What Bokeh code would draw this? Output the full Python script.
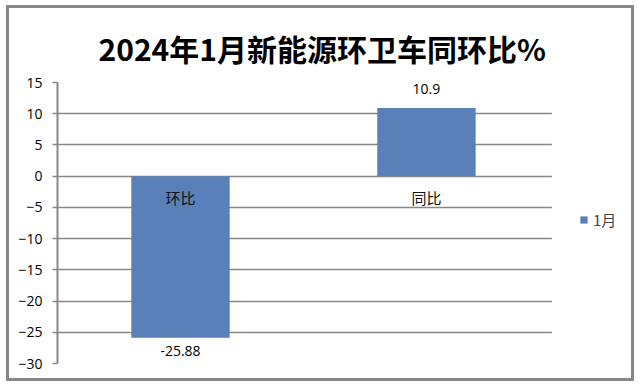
from bokeh.plotting import figure
from bokeh.models import ColumnDataSource, Legend, LegendItem, FixedTicker, Range1d, BoxAnnotation
from bokeh.core.properties import value
from bokeh.embed import file_html
from bokeh.resources import INLINE

categories = ["环比", "同比"]
values = [-25.88, 10.9]
value_labels = ["-25.88", "10.9"]
series_name = "1月"
y_ticks = [15, 10, 5, 0, -5, -10, -15, -20, -25, -30]
title_text = "2024年1月新能源环卫车同环比%"

BAR = "#5A80BA"
GRID = "#878787"

cat_x = [i + 0.5 for i in range(len(categories))]
n_cat = len(categories)
baselines = ["bottom" if v >= 0 else "top" for v in values]
offsets = [-14 if v >= 0 else 8 for v in values]
zeros = [0 for _ in values]

src = ColumnDataSource(dict(x=cat_x, cat=categories, val=values, lab=value_labels,
                            base=baselines, off=offsets, zero=zeros))

# frame extends to the right edge; the area right of the categories is kept blank
p = figure(x_range=Range1d(0, n_cat * 1.179), y_range=Range1d(min(y_ticks), max(y_ticks)),
           width=628, height=376, output_backend="svg", toolbar_location=None,
           min_border_left=48, min_border_right=0, min_border_top=74, min_border_bottom=21,
           title=title_text)
p.styles = {"border": "3px solid #878787", "margin-left": "6px", "margin-top": "5px"}

p.title.text_font = "Noto Sans CJK SC"
p.title.text_font_size = "30px"
p.title.text_font_style = "bold"
p.title.align = "left"
p.title.offset = 41
p.title.standoff = 26
p.title.text_color = "#000000"

r = p.vbar(x="x", top="val", width=0.4, source=src, fill_color=BAR, line_color=None)

p.text(x="x", y="val", text="lab", source=src, text_align="center",
       text_baseline="base", y_offset="off", text_font=value("Open Sans"),
       text_font_size="14px", text_color="#000000")
p.text(x="x", y="zero", text="cat", source=src, text_align="center",
       text_baseline="top", y_offset=11, text_font=value("Noto Sans CJK SC"),
       text_font_size="15px", text_font_style="normal", text_color="#111111")

p.xaxis.visible = False
p.xgrid.grid_line_color = None
p.ygrid.ticker = FixedTicker(ticks=y_ticks)
p.ygrid.grid_line_color = GRID
p.ygrid.grid_line_width = 1.6
p.yaxis.ticker = FixedTicker(ticks=y_ticks)
p.yaxis.axis_line_color = GRID
p.yaxis.axis_line_width = 2
p.yaxis.major_tick_line_color = GRID
p.yaxis.major_tick_line_width = 1.6
p.yaxis.major_tick_out = 5
p.yaxis.major_tick_in = 0
p.yaxis.minor_tick_line_color = None
p.yaxis.major_label_text_font = "Open Sans"
p.yaxis.major_label_text_font_size = "14px"
p.yaxis.major_label_text_color = "#000000"
p.yaxis.major_label_standoff = 10
p.outline_line_color = None

cover = BoxAnnotation(left=n_cat + 0.01, fill_color="white", fill_alpha=1,
                      line_color=None, level="annotation")
p.add_layout(cover)

legend = Legend(items=[LegendItem(label=series_name, renderers=[r])],
                location=(522, 133), border_line_color=None,
                background_fill_alpha=0, glyph_width=9, glyph_height=9,
                label_text_font="Noto Sans CJK SC", label_text_font_size="15px",
                margin=0, padding=0, label_standoff=5)
p.add_layout(legend)

open("out.html", "w").write(file_html(p, INLINE))
